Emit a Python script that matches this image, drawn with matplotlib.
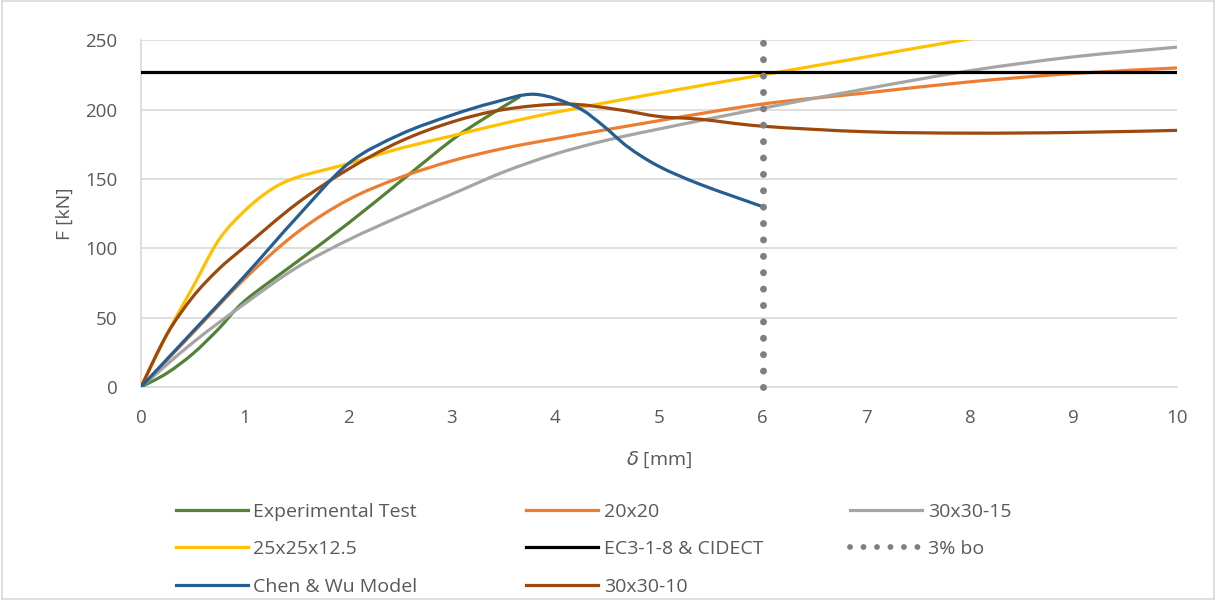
import matplotlib.pyplot as plt
from matplotlib.lines import Line2D
from matplotlib.patches import Rectangle, PathPatch
from matplotlib.path import Path

# Data (delta [mm], F [kN])
exp_x = [0, 0.25, 0.5, 0.75, 1, 1.5, 2, 2.5, 3, 3.3, 3.65]
exp_y = [0, 10, 24, 42, 62, 90, 118, 148, 178, 193, 209]

chen_x = [0, 0.5, 1, 1.5, 2, 2.5, 3, 3.4, 3.8, 4.2, 4.45, 4.7, 5, 5.4, 6]
chen_y = [0, 40, 80, 122, 161, 182, 196, 205, 211, 202, 189, 173, 159, 146, 130]

b20_x = [0, 0.5, 1, 1.5, 2, 2.5, 3, 3.5, 4, 5, 6, 7, 8, 9, 10]
b20_y = [0, 39, 78, 111, 135, 151, 163, 172, 179, 192, 204, 212, 220, 226, 230]

b25_x = [0, 0.25, 0.5, 0.75, 1, 1.25, 1.5, 2, 2.5, 3, 3.5, 4, 5, 6, 7, 8, 9, 10]
b25_y = [0, 38, 72, 106, 127, 142, 151, 161, 172, 181, 190, 198, 212, 225, 238, 251, 263, 275]

b30_15_x = [0, 0.5, 1, 1.5, 2, 2.5, 3, 3.5, 4, 4.5, 5, 6, 7, 8, 9, 10]
b30_15_y = [0, 32, 60, 86, 106, 123, 139, 155, 168, 178, 186, 201, 215, 228, 238, 245]

b30_10_x = [0, 0.25, 0.5, 0.75, 1, 1.5, 2, 2.5, 3, 3.5, 4.1, 4.6, 5, 5.4, 6, 7, 8, 9, 10]
b30_10_y = [0, 38, 65, 85, 101, 132, 157, 177, 191, 200, 204, 200, 195, 193, 188, 184, 183, 183.5, 185]

ec3_x = [0, 10]
ec3_y = [227, 227]

bo_x = [6, 6]
bo_y = [0, 250]

plt.rcParams['font.family'] = ['Open Sans', 'DejaVu Sans']
text_col = '#595959'


def smooth_path(xs, ys):
    # Excel-like smoothed line: Catmull-Rom segments as cubic Beziers
    pts = list(zip(xs, ys))
    verts = [pts[0]]
    codes = [Path.MOVETO]
    n = len(pts)
    for i in range(n - 1):
        p0 = pts[i - 1] if i > 0 else pts[i]
        p1 = pts[i]
        p2 = pts[i + 1]
        p3 = pts[i + 2] if i + 2 < n else pts[i + 1]
        c1 = (p1[0] + (p2[0] - p0[0]) / 6, p1[1] + (p2[1] - p0[1]) / 6)
        c2 = (p2[0] - (p3[0] - p1[0]) / 6, p2[1] - (p3[1] - p1[1]) / 6)
        verts += [c1, c2, p2]
        codes += [Path.CURVE4] * 3
    return Path(verts, codes)


fig = plt.figure(figsize=(12.16, 6), dpi=100)
ax = fig.add_axes([0.116, 0.355, 0.852, 0.578])

lw = 2.3
series = [
    (exp_x, exp_y, '#548235', 'Experimental Test'),
    (b20_x, b20_y, '#ED7D31', '20x20'),
    (b30_15_x, b30_15_y, '#A5A5A5', '30x30-15'),
    (b25_x, b25_y, '#FFC000', '25x25x12.5'),
    (b30_10_x, b30_10_y, '#9E480E', '30x30-10'),
    (chen_x, chen_y, '#255E91', 'Chen & Wu Model'),
]
lookup = {}
for xs, ys, col, name in series:
    ax.add_patch(PathPatch(smooth_path(xs, ys), fill=False, edgecolor=col,
                           lw=lw, capstyle='round', joinstyle='round', zorder=3))
    lookup[name] = Line2D([], [], color=col, lw=lw)

ln, = ax.plot(ec3_x, ec3_y, color='black', lw=lw, zorder=3)
lookup['EC3-1-8 & CIDECT'] = ln
dots, = ax.plot(bo_x, bo_y, color='#7F7F7F', lw=5, dashes=(0.01, 2.35),
                dash_capstyle='round', zorder=3, clip_on=False)
lookup['3% bo'] = Line2D([], [], color='#7F7F7F', lw=4.2, dashes=(0.01, 2.3),
                         dash_capstyle='round')

ax.set_xlim(0, 10)
ax.set_ylim(0, 250)
ax.set_xticks(range(0, 11))
ax.set_yticks(range(0, 251, 50))
ax.grid(axis='y', color='#D9D9D9', lw=1.2)
ax.set_axisbelow(True)
ax.tick_params(axis='x', length=0, labelsize=13.5, labelcolor=text_col, pad=16)
ax.tick_params(axis='y', length=0, labelsize=13.5, labelcolor=text_col, pad=17)
for s in ['top', 'right']:
    ax.spines[s].set_visible(False)
for s in ['left', 'bottom']:
    ax.spines[s].set_color('#D9D9D9')
    ax.spines[s].set_linewidth(1.2)

ax.set_xlabel(r'$\delta$ [mm]', fontsize=14, color=text_col, labelpad=16)
ax.set_ylabel('F [kN]', fontsize=14, color=text_col, labelpad=8)

# legend in three columns, like the reference
columns = [
    (['Experimental Test', '25x25x12.5', 'Chen & Wu Model'], 0.138),
    (['20x20', 'EC3-1-8 & CIDECT', '30x30-10'], 0.426),
    (['30x30-15', '3% bo'], 0.693),
]
for names, x0 in columns:
    leg = fig.legend([lookup[n] for n in names], names, loc='upper left',
                     bbox_to_anchor=(x0, 0.175), bbox_transform=fig.transFigure,
                     frameon=False, fontsize=14, handlelength=3.7,
                     handletextpad=0.3, labelspacing=1.0, borderaxespad=0)
    for t in leg.get_texts():
        t.set_color(text_col)

fig.patches.append(Rectangle((0.002, 0.002), 0.996, 0.996, transform=fig.transFigure,
                             fill=False, edgecolor='#D9D9D9', lw=1.2))

fig.savefig('out.png', dpi=100)
